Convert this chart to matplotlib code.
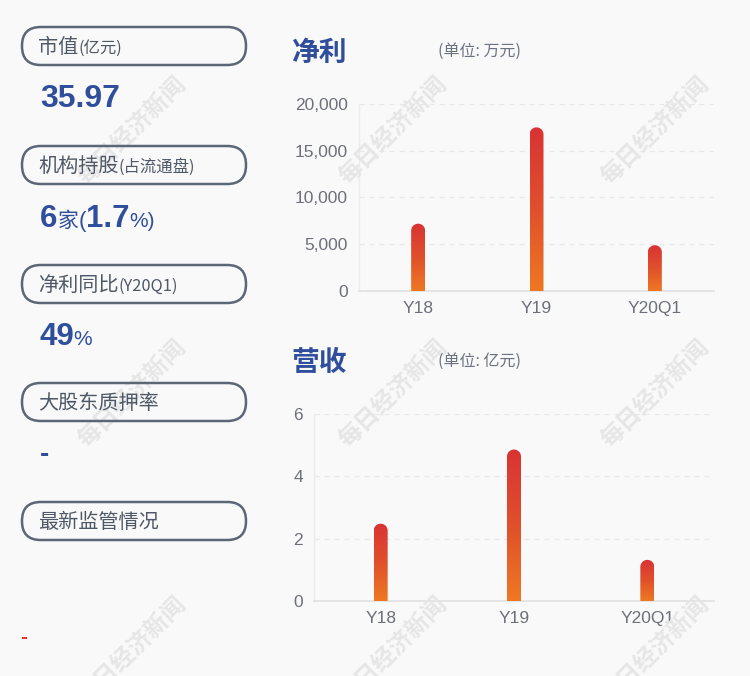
import numpy as np
import matplotlib
matplotlib.use("Agg")
import matplotlib.pyplot as plt
from matplotlib.patches import FancyBboxPatch, PathPatch
from matplotlib.path import Path
from matplotlib.colors import LinearSegmentedColormap

# ---------------- data ----------------
profit_categories = ["Y18", "Y19", "Y20Q1"]
profit_values = [7200, 17500, 4900]          # 万元
profit_ticks = [0, 5000, 10000, 15000, 20000]
profit_ticklabels = ["0", "5,000", "10,000", "15,000", "20,000"]

revenue_categories = ["Y18", "Y19", "Y20Q1"]
revenue_values = [2.48, 4.86, 1.32]           # 亿元
revenue_ticks = [0, 2, 4, 6]
revenue_ticklabels = ["0", "2", "4", "6"]

pill_labels = [("市值", "(亿元)"), ("机构持股", "(占流通盘)"), ("净利同比", "(Y20Q1)"),
               ("大股东质押率", ""), ("最新监管情况", "")]

W, H = 750, 676
BG = "#f9f9f9"
BLUE = "#2f4e9c"
GRAY_TXT = "#4f5866"
TICK_C = "#6e7079"
LAT = ["Liberation Sans", "Noto Sans CJK SC", "DejaVu Sans"]
CJK = ["Noto Sans CJK SC", "Liberation Sans", "DejaVu Sans"]

fig = plt.figure(figsize=(W / 100, H / 100), dpi=100, facecolor=BG)
renderer = fig.canvas.get_renderer()


def fx(px):
    return px / W


def fy(py):
    return 1 - py / H


def seq_text(x, y, pieces):
    """pieces: list of (text, size, family, weight, color, gap). x,y in px (baseline)."""
    cur = x
    for s, size, fam, wt, col, gap in pieces:
        cur += gap
        t = fig.text(fx(cur), fy(y), s, fontsize=size, family=fam, weight=wt,
                     color=col, va="baseline", ha="left")
        bb = t.get_window_extent(renderer)
        cur += bb.width


# ---------------- left panel ----------------
pill_tops = [27, 146, 265, 383, 502]
for (main, sub), top in zip(pill_labels, pill_tops):
    h = 38
    p = FancyBboxPatch((fx(22), fy(top + h)), fx(224), h / H,
                       boxstyle="round,pad=0,rounding_size=0.025",
                       transform=fig.transFigure, facecolor="none",
                       edgecolor="#5b6676", linewidth=1.8,
                       mutation_aspect=W / H)
    fig.patches.append(p)
    pieces = [(main, 14.5, CJK, "normal", GRAY_TXT, 0)]
    if sub:
        pieces.append((sub, 11.8, CJK, "normal", GRAY_TXT, 0))
    seq_text(38, top + 26, pieces)

seq_text(40, 107, [("35.97", 23, LAT, "bold", BLUE, 0)])
seq_text(40, 227, [("6", 22.5, LAT, "bold", BLUE, 0), ("家", 15, CJK, "normal", BLUE, 0),
                   ("(", 16, LAT, "normal", BLUE, 0), ("1.7", 22.5, LAT, "bold", BLUE, 0),
                   ("%)", 15, LAT, "normal", BLUE, 0)])
seq_text(40, 345, [("49", 22.5, LAT, "bold", BLUE, 0), ("%", 15, LAT, "normal", BLUE, -1)])
seq_text(40, 462, [("-", 20, LAT, "bold", BLUE, 0)])
seq_text(20, 643, [("-", 15, LAT, "bold", "#e03030", 0)])

# ---------------- watermarks ----------------
for cx in (132, 393, 655):
    for cy in (130, 393, 650):
        fig.text(fx(cx), fy(cy), "每日经济新闻", fontsize=17, family=CJK,
                 weight="bold", color="#e6e6e6", rotation=45,
                 ha="center", va="center", rotation_mode="anchor", zorder=0.5)

# ---------------- charts ----------------
cmap = LinearSegmentedColormap.from_list("g", ["#ee7822", "#e0502c", "#d93334"])


def gradient_bars(ax, cats, vals, bar_px=14):
    x = np.arange(len(cats))
    bars = ax.bar(x, vals, width=0.12, facecolor="none", edgecolor="none")
    bbox = ax.get_window_extent(renderer)
    x0, x1 = ax.get_xlim()
    y0, y1 = ax.get_ylim()
    ppx = bbox.width / (x1 - x0)
    ppy = bbox.height / (y1 - y0)
    for rect in bars:
        w = bar_px / ppx
        cx = rect.get_x() + rect.get_width() / 2
        top = rect.get_height()
        rx = w / 2
        ry = (bar_px / 2) / ppy
        th = np.linspace(0, np.pi, 40)
        arc_x = cx + rx * np.cos(th)
        arc_y = top - ry + ry * np.sin(th)
        verts = [(cx - rx, 0), (cx + rx, 0)] + list(zip(arc_x, arc_y)) + [(cx - rx, 0)]
        codes = [Path.MOVETO] + [Path.LINETO] * (len(verts) - 2) + [Path.CLOSEPOLY]
        path = Path(verts, codes)
        patch = PathPatch(path, facecolor="none", edgecolor="none", transform=ax.transData)
        ax.add_patch(patch)
        grad = np.linspace(0, 1, 256).reshape(-1, 1)
        im = ax.imshow(grad, cmap=cmap, origin="lower", aspect="auto",
                       extent=[cx - rx, cx + rx, 0, top], zorder=3,
                       interpolation="bilinear")
        im.set_clip_path(patch)
    ax.set_xlim(x0, x1)
    ax.set_ylim(y0, y1)


def style_axes(ax, cats, ticks, ticklabels):
    ax.set_facecolor("none")
    ax.set_xlim(-0.5, len(cats) - 0.5)
    ax.set_ylim(ticks[0], ticks[-1])
    ax.set_yticks(ticks)
    ax.set_yticklabels(ticklabels, family=LAT, fontsize=12.5, color=TICK_C)
    ax.set_xticks(np.arange(len(cats)))
    ax.set_xticklabels(cats, family=LAT, fontsize=12.5, color=TICK_C)
    ax.tick_params(axis="both", length=0)
    ax.tick_params(axis="y", pad=8)
    ax.tick_params(axis="x", pad=7)
    for s in ("top", "right"):
        ax.spines[s].set_visible(False)
    ax.spines["left"].set_color("#ececec")
    ax.spines["left"].set_linewidth(1)
    ax.spines["bottom"].set_color("#e0e0e0")
    ax.spines["bottom"].set_linewidth(1.2)
    for t in ticks[1:]:
        ax.axhline(t, color="#e8e8e8", linewidth=0.9, linestyle=(0, (4, 4)), zorder=1)


ax1 = fig.add_axes([fx(359), fy(291), (714 - 359) / W, 187 / H])
style_axes(ax1, profit_categories, profit_ticks, profit_ticklabels)
gradient_bars(ax1, profit_categories, profit_values)

ax2 = fig.add_axes([fx(314), fy(601), (714 - 314) / W, 187 / H])
style_axes(ax2, revenue_categories, revenue_ticks, revenue_ticklabels)
gradient_bars(ax2, revenue_categories, revenue_values)

# titles
fig.text(fx(291), fy(61), "净利", fontsize=20, family=CJK, weight="bold", color=BLUE)
fig.text(fx(438), fy(56), "(单位: 万元)", fontsize=11.5, family=CJK, color="#6b7280")
fig.text(fx(291), fy(371), "营收", fontsize=20, family=CJK, weight="bold", color=BLUE)
fig.text(fx(438), fy(366), "(单位: 亿元)", fontsize=11.5, family=CJK, color="#6b7280")

fig.savefig("out.png", dpi=100, facecolor=BG)
